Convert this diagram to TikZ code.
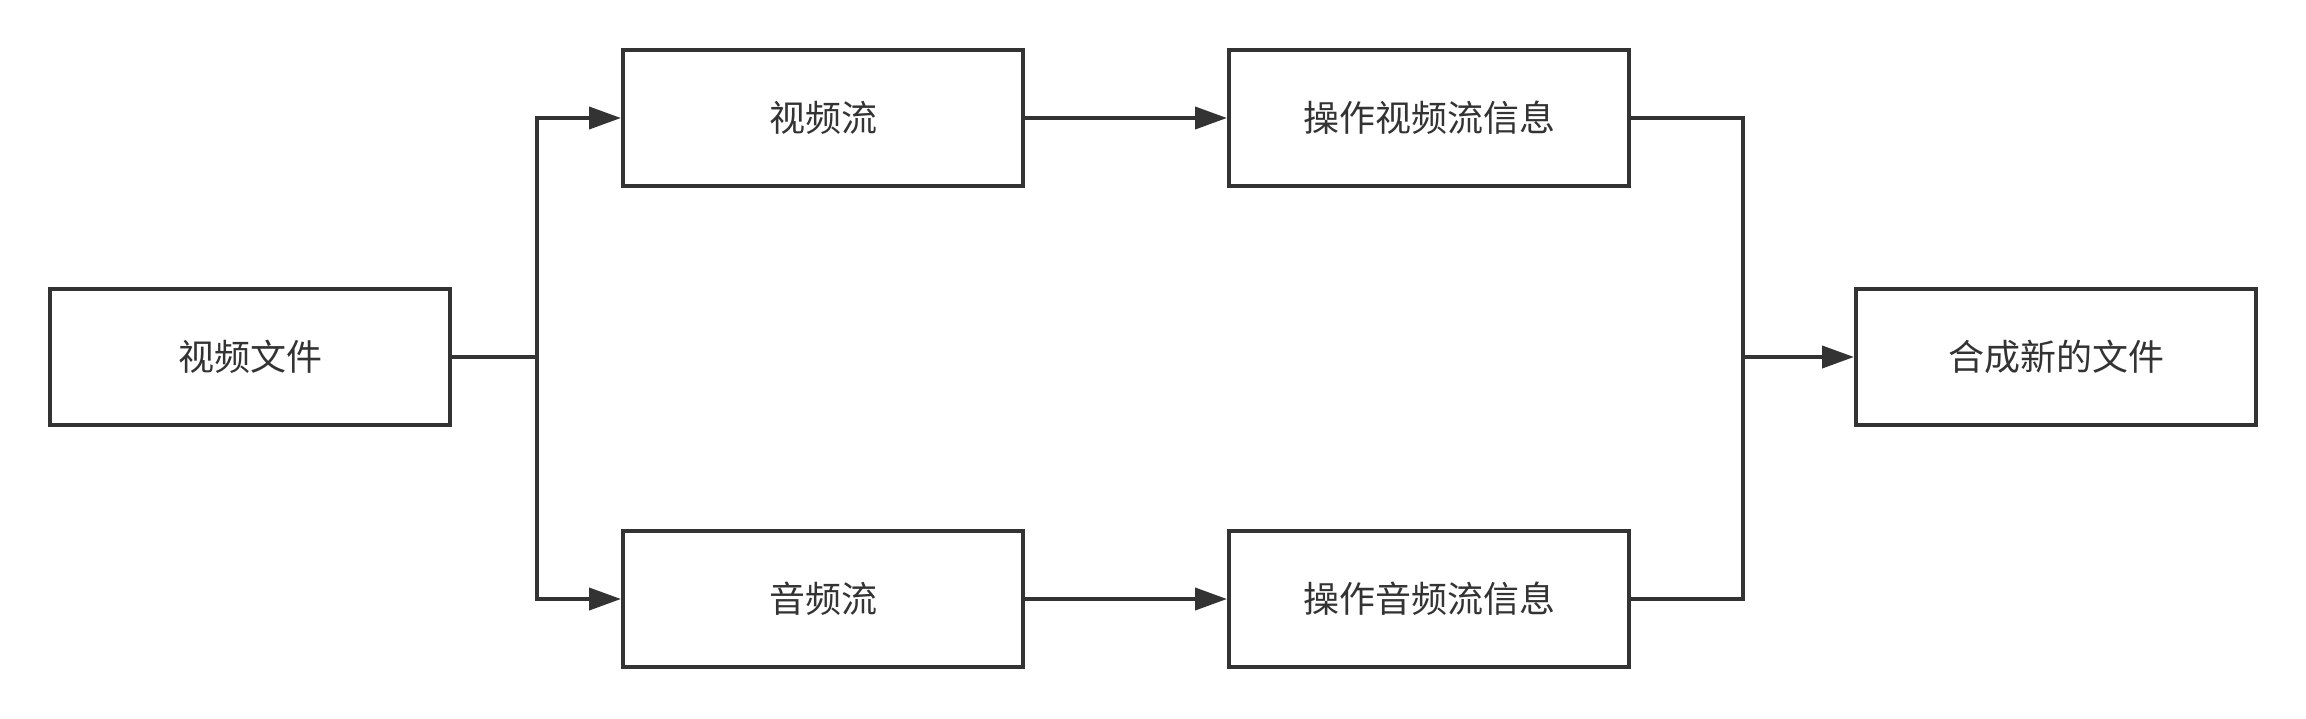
\documentclass[tikz,border=0pt]{standalone}
\usepackage{fontspec}
\setmainfont{Noto Sans CJK SC}
\usetikzlibrary{arrows.meta}
\definecolor{linegray}{HTML}{333333}

\begin{document}
\begin{tikzpicture}[x=0.5pt, y=-0.5pt,
    box/.style={draw=linegray, line width=2pt, rectangle, minimum width=200pt, minimum height=68pt, text=linegray, font=\fontsize{18}{20}\selectfont},
    flow/.style={draw=linegray, line width=2pt},
    arr/.style={flow, -{Triangle[length=16pt, width=11pt]}}]
        \useasboundingbox (0,0) rectangle (2306,718);

        \node[box] (file) at (250,357) {视频文件};
        \node[box] (vstream) at (823,118) {视频流};
        \node[box] (astream) at (823,599) {音频流};
        \node[box] (vinfo) at (1429,118) {操作视频流信息};
        \node[box] (ainfo) at (1429,599) {操作音频流信息};
        \node[box] (merged) at (2056,357) {合成新的文件};

        % 分支点
        \coordinate (split) at (537,357);
        \coordinate (join) at (1743,357);

        \draw[flow] (file.east) -- (split);
        \draw[arr] (split) |- (vstream.west);
        \draw[arr] (split) |- (astream.west);

        \draw[arr] (vstream.east) -- (vinfo.west);
        \draw[arr] (astream.east) -- (ainfo.west);

        \draw[flow] (vinfo.east) -| (join);
        \draw[flow] (ainfo.east) -| (join);
        \draw[arr] (join) -- (merged.west);
    \end{tikzpicture}
\end{document}
